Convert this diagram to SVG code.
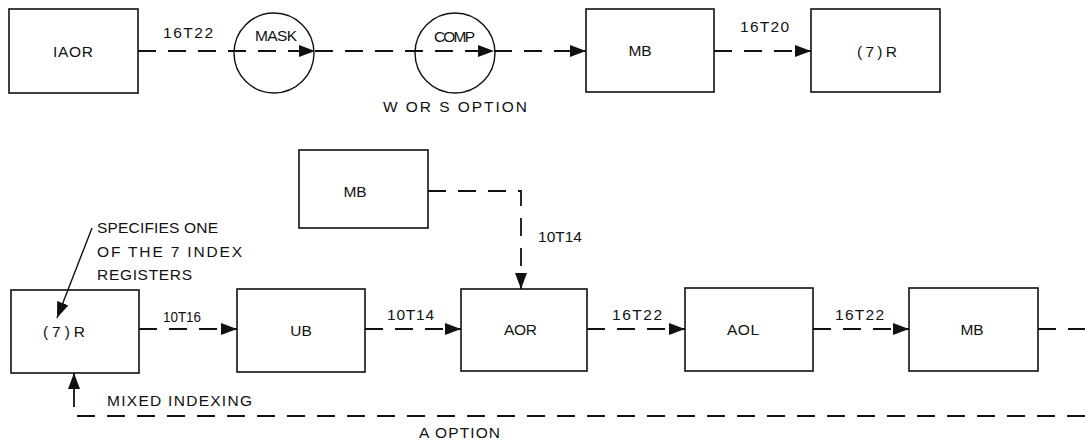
<svg xmlns="http://www.w3.org/2000/svg" width="1085" height="447" viewBox="0 0 1085 447">
<style>
  .box { fill: none; stroke: #111; stroke-width: 1.6; }
  .circ { fill: none; stroke: #111; stroke-width: 1.4; }
  .t { font-family: "Liberation Sans", Arial, sans-serif; font-size: 15.5px; fill: #111; }
  .mid { text-anchor: middle; }
  .dash { fill: none; stroke: #111; stroke-width: 1.8; stroke-dasharray: 18 12; }
  .solid { fill: none; stroke: #111; stroke-width: 1.4; }
</style>
<defs>
  <marker id="arr" markerUnits="userSpaceOnUse" markerWidth="17" markerHeight="13" refX="16" refY="6" orient="auto">
    <path d="M0,0 L16,6 L0,12 Z" fill="#111"/>
  </marker>
</defs>
<rect width="1085" height="447" fill="#fff"/>

<g id="n-iaor">
  <rect class="box" x="9" y="9" width="129" height="84"/>
  <text class="t" x="53" y="57" textLength="40" lengthAdjust="spacing">IAOR</text>
</g>
<g id="n-mask">
  <circle class="circ" cx="274" cy="53" r="40"/>
  <text class="t" x="255" y="41" textLength="42" lengthAdjust="spacing">MASK</text>
</g>
<g id="n-comp">
  <circle class="circ" cx="455" cy="53" r="40"/>
  <text class="t" x="434" y="42" textLength="41" lengthAdjust="spacing">COMP</text>
</g>
<g id="n-mb-top">
  <rect class="box" x="586" y="9" width="128" height="83"/>
  <text class="t mid" x="640" y="56">MB</text>
</g>
<g id="n-7r-top">
  <rect class="box" x="811" y="9" width="129" height="83"/>
  <text class="t" x="857" y="57" textLength="40" lengthAdjust="spacing">(7)R</text>
</g>
<g id="n-mb-mid">
  <rect class="box" x="299" y="150" width="129" height="78"/>
  <text class="t mid" x="355" y="197">MB</text>
</g>
<g id="n-7r-bot">
  <rect class="box" x="11" y="290" width="128" height="83"/>
  <text class="t" x="43" y="337" textLength="42" lengthAdjust="spacing">(7)R</text>
</g>
<g id="n-ub">
  <rect class="box" x="237" y="289" width="128" height="83"/>
  <text class="t mid" x="301" y="336">UB</text>
</g>
<g id="n-aor">
  <rect class="box" x="461" y="289" width="126" height="82"/>
  <text class="t" x="504" y="335" textLength="33" lengthAdjust="spacing">AOR</text>
</g>
<g id="n-aol">
  <rect class="box" x="685" y="288" width="128" height="83"/>
  <text class="t" x="727" y="335" textLength="32" lengthAdjust="spacing">AOL</text>
</g>
<g id="n-mb-bot">
  <rect class="box" x="909" y="288" width="129" height="83"/>
  <text class="t mid" x="972" y="335">MB</text>
</g>

<g id="connectors">
  <path class="dash" d="M138,51 H315" marker-end="url(#arr)"/>
  <path class="dash" d="M315,51 H494" marker-end="url(#arr)"/>
  <path class="dash" d="M494,51 H586" marker-end="url(#arr)"/>
  <path class="dash" d="M714,51 H811" marker-end="url(#arr)"/>
  <path class="dash" d="M428,191 H521 V289" marker-end="url(#arr)"/>
  <path class="dash" d="M139,329 H237" marker-end="url(#arr)"/>
  <path class="dash" d="M365,329 H461" marker-end="url(#arr)"/>
  <path class="dash" d="M587,329 H685" marker-end="url(#arr)"/>
  <path class="dash" d="M813,329 H909" marker-end="url(#arr)"/>
  <path class="dash" d="M1038,329 H1085"/>
  <path class="dash" d="M1085,416 H74 V373" marker-end="url(#arr)"/>
  <path class="solid" d="M92,228 L57,318" marker-end="url(#arr)"/>
</g>

<g id="labels">
  <text class="t" x="163" y="38" textLength="50" lengthAdjust="spacing">16T22</text>
  <text class="t" x="740" y="32" textLength="49" lengthAdjust="spacing">16T20</text>
  <text class="t" x="383" y="112" textLength="144" lengthAdjust="spacing">W OR S OPTION</text>
  <text class="t" x="538" y="242" textLength="44" lengthAdjust="spacingAndGlyphs">10T14</text>
  <text class="t" x="163" y="322" textLength="38" lengthAdjust="spacingAndGlyphs">10T16</text>
  <text class="t" x="387" y="320" textLength="47" lengthAdjust="spacing">10T14</text>
  <text class="t" x="612" y="320" textLength="50" lengthAdjust="spacing">16T22</text>
  <text class="t" x="835" y="320" textLength="49" lengthAdjust="spacing">16T22</text>
  <text class="t" x="97" y="233" textLength="121" lengthAdjust="spacing">SPECIFIES ONE</text>
  <text class="t" x="97" y="257" textLength="145" lengthAdjust="spacing">OF THE 7 INDEX</text>
  <text class="t" x="97" y="280" textLength="95" lengthAdjust="spacing">REGISTERS</text>
  <text class="t" x="107" y="406" textLength="145" lengthAdjust="spacing">MIXED INDEXING</text>
  <text class="t" x="419" y="438" textLength="81" lengthAdjust="spacing">A OPTION</text>
</g>
</svg>
